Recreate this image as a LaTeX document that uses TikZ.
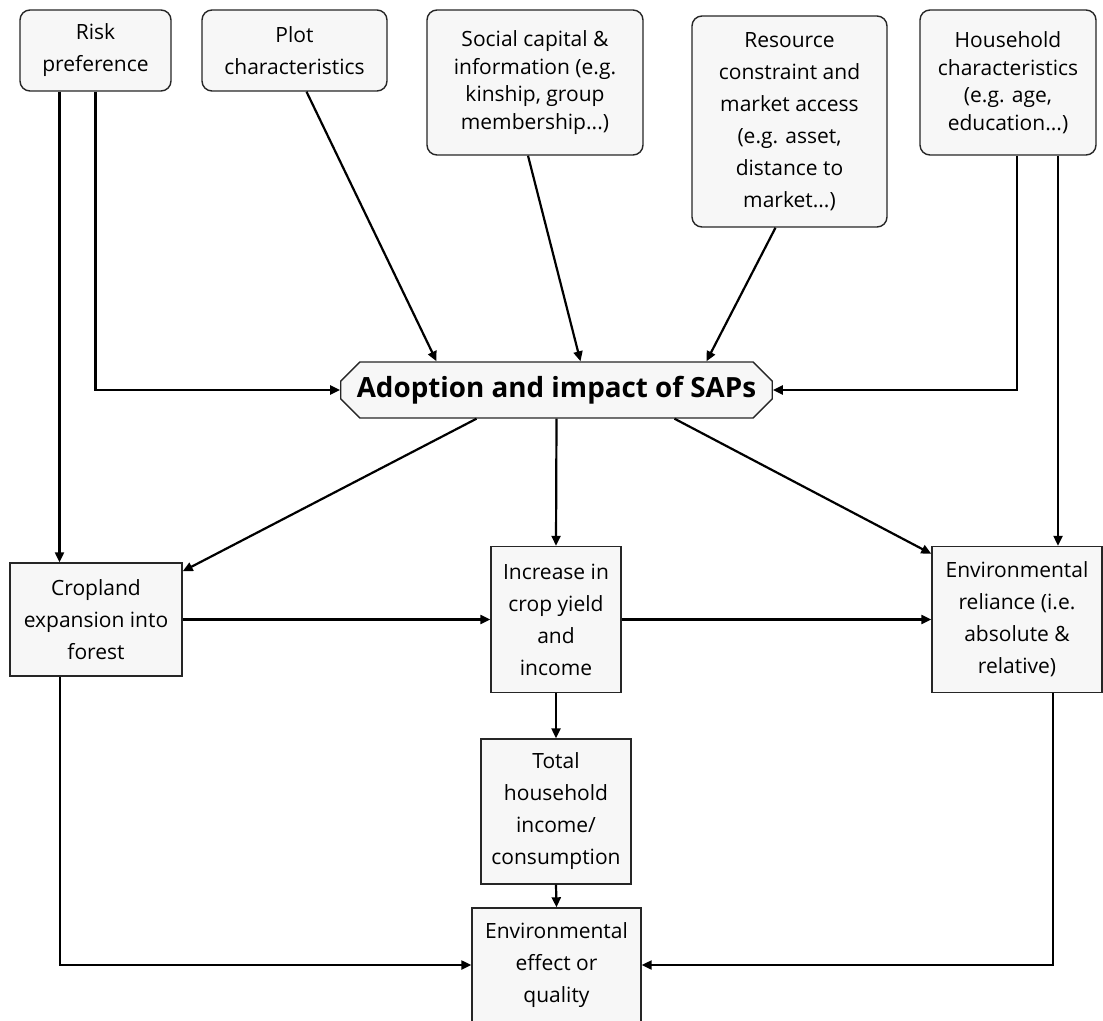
\documentclass[tikz,border=0pt]{standalone}
\usepackage{fontspec}
\setmainfont{Open Sans}
\usepackage{tikz}
\usetikzlibrary{shapes,shapes.misc,arrows.meta,positioning,calc}

\begin{document}
\begin{tikzpicture}[x=0.5pt,y=-0.5pt,
    factor/.style={draw=black!85,fill=black!3,rounded corners=5pt,line width=0.7pt,align=center,
        font=\fontsize{10.5}{16}\selectfont,inner sep=2pt},
    tight/.style={font=\fontsize{10.5}{13.8}\selectfont},
    outcome/.style={draw=black!85,fill=black!3,line width=0.7pt,align=center,
        font=\fontsize{10.5}{16}\selectfont,inner sep=2pt},
    core/.style={chamfered rectangle,chamfered rectangle xsep=6pt,draw=black!85,fill=black!3,line width=0.7pt,
        font=\bfseries\fontsize{13.9}{16}\selectfont,inner sep=2pt},
    arr/.style={-{Triangle[length=5pt,width=4.5pt]},line width=1.1pt}]
    \useasboundingbox (0,0) rectangle (1103,1021);

    % Top factors
    \node[factor,minimum width=75.5pt,minimum height=40.5pt] (risk) at (95.5,50.5) {Risk\\preference};
    \node[factor,minimum width=92.5pt,minimum height=40.5pt] (plot) at (294.5,50.5) {Plot\\characteristics};
    \node[factor,tight,minimum width=108pt,minimum height=72.5pt] (social) at (535,82.5) {Social capital \&\\information (e.g.\\kinship, group\\membership...)};
    \node[factor,minimum width=97.5pt,minimum height=105.5pt] (resource) at (789.5,121.5) {Resource\\constraint and\\market access\\(e.g. asset,\\distance to\\market...)};
    \node[factor,tight,minimum width=88pt,minimum height=72.5pt] (house) at (1008,82.5) {Household\\characteristics\\(e.g. age,\\education...)};

    % Adoption
    \node[core,minimum width=215.5pt,minimum height=28pt] (adopt) at (556.5,390) {Adoption and impact of SAPs};

    % Outcomes
    \node[outcome,minimum width=86pt,minimum height=56.5pt] (crop) at (96,619.5) {Cropland\\expansion into\\forest};
    \node[outcome,minimum width=65pt,minimum height=73pt] (yield) at (556,619.5) {Increase in\\crop yield\\and\\income};
    \node[outcome,minimum width=85pt,minimum height=73pt] (reliance) at (1017,619.5) {Environmental\\reliance (i.e.\\absolute \&\\relative)};
    \node[outcome,minimum width=75pt,minimum height=72.5pt] (total) at (556,811.5) {Total\\household\\income/\\consumption};
    \node[outcome,minimum width=84.5pt,minimum height=57pt] (effect) at (556.5,965) {Environmental\\effect or\\quality};

    % Factors into adoption
    \draw[arr] (risk.south) |- (adopt.west);
    \draw[arr] ([xshift=6pt]plot.south) -- ([xshift=-60pt]adopt.north);
    \draw[arr] ([xshift=-3.5pt]social.south) -- ([xshift=12pt]adopt.north);
    \draw[arr] ([xshift=-7pt]resource.south) -- ([xshift=75pt]adopt.north);
    \draw[arr] ([xshift=4.5pt]house.south) |- (adopt.east);

    % Direct effects
    \draw[arr] ([xshift=-18pt]risk.south) -- ([xshift=-18pt]risk.south |- crop.north);
    \draw[arr] ([xshift=25pt]house.south) -- ([xshift=25pt]house.south |- reliance.north);

    % Adoption into outcomes
    \draw[arr] ([xshift=-40pt]adopt.south) -- ([yshift=-4.5pt]crop.north east);
    \draw[arr] (adopt.south) -- (yield.north);
    \draw[arr] ([xshift=59pt]adopt.south) -- ([yshift=-4pt]reliance.north west);

    % Between outcomes
    \draw[arr] (crop.east) -- (yield.west);
    \draw[arr] (yield.east) -- (reliance.west);
    \draw[arr] (yield.south) -- (total.north);
    \draw[arr] (total.south) -- (effect.north);
    \draw[arr] ([xshift=-18pt]crop.south) |- (effect.west);
    \draw[arr] ([xshift=18pt]reliance.south) |- (effect.east);
\end{tikzpicture}
\end{document}
